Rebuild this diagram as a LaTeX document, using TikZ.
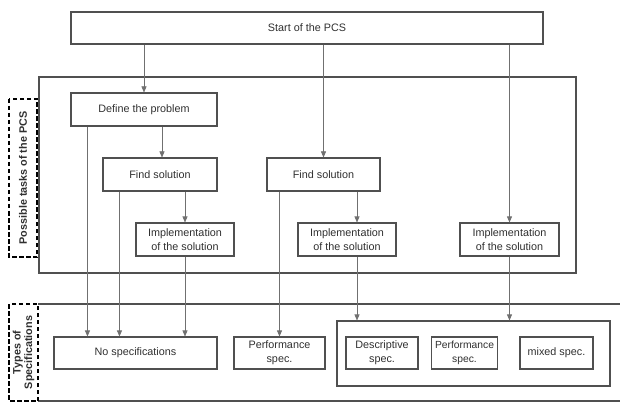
\documentclass[tikz,border=0pt]{standalone}
\usepackage{fontspec}
\setmainfont{Liberation Sans}
\usetikzlibrary{arrows.meta}
\definecolor{boxc}{HTML}{505050}
\definecolor{arrc}{HTML}{707070}
\definecolor{txtc}{HTML}{303030}
\begin{document}
\begin{tikzpicture}[x=1pt,y=-1pt,
  box/.style={draw=boxc, line width=1.1pt, fill=white, inner sep=0pt, align=center,
    text=txtc, font=\fontsize{10.8}{14}\selectfont},
  frame/.style={draw=boxc, line width=1.1pt, inner sep=0pt},
  arr/.style={draw=arrc, line width=0.6pt, -{Triangle[length=6pt,width=5pt]}},
  dbox/.style={draw=black, line width=1.4pt, dash pattern=on 4.5pt off 2.5pt, inner sep=0pt,
    align=center, rotate=90, font=\bfseries\fontsize{10.8}{11.5}\selectfont, text=txtc},
]
\useasboundingbox (0,0) rectangle (620,403);
% frames
\node[frame, minimum width=537pt, minimum height=196pt] (outer) at (307.5,175) {};
\node[dbox, minimum width=158pt, minimum height=28pt] (dash1) at (23,178) {Possible tasks of the PCS};
\coordinate (lowTL) at (38,304);
\coordinate (lowTR) at (620,304);
\coordinate (lowBL) at (38,401);
\coordinate (lowBR) at (620,401);
\draw[boxc, line width=1.1pt] (lowTL) -- (lowTR);
\draw[boxc, line width=1.1pt] (lowBL) -- (lowBR);
\node[dbox, minimum width=97pt, minimum height=29pt] (dash2) at (23.5,352.5) {Types of\\Specifications};
% boxes
\node[box, minimum width=472pt, minimum height=32pt] (start) at (307,28) {Start of the PCS};
\node[box, minimum width=146pt, minimum height=33pt] (define) at (144,109.5) {Define the problem};
\node[box, minimum width=114pt, minimum height=33pt] (findL) at (160,174.5) {Find solution};
\node[box, minimum width=98pt, minimum height=33pt] (implL) at (185,239.5) {Implementation\\of the solution};
\node[box, minimum width=113pt, minimum height=33pt] (findM) at (323.5,174.5) {Find solution};
\node[box, minimum width=98pt, minimum height=33pt] (implM) at (347,239.5) {Implementation\\of the solution};
\node[box, minimum width=99pt, minimum height=33pt] (implR) at (509.5,239.5) {Implementation\\of the solution};
\node[box, minimum width=163pt, minimum height=32pt] (nospec) at (135.5,353) {No specifications};
\node[box, minimum width=91pt, minimum height=32pt] (perf1) at (279.5,353) {Performance\\spec.};
\node[box, minimum width=273pt, minimum height=65pt] (group) at (473.5,353.5) {};
\node[box, minimum width=72pt, minimum height=32pt] (desc) at (382,353) {Descriptive\\spec.};
\node[box, minimum width=66pt, minimum height=32pt, font=\fontsize{10.3}{14}\selectfont] (perf2) at (464.5,353) {Performance\\spec.};
\node[box, minimum width=73pt, minimum height=32pt] (mixed) at (556.5,353) {mixed spec.};
% connectors
\draw[arr] (start.south -| define.north) -- (define.north);
\draw[arr] (start.south -| findM.north) -- (findM.north);
\draw[arr] (start.south -| implR.north) -- (implR.north);
\draw[arr] ([xshift=17pt]define.south west) -- ([xshift=17pt]define.south west |- nospec.north);
\draw[arr] ([xshift=18pt]define.south) -- ([xshift=2pt]findL.north);
\draw[arr] ([xshift=17pt]findL.south west) -- ([xshift=17pt]findL.south west |- nospec.north);
\draw[arr] (findL.south -| implL.north) -- (implL.north);
\draw[arr] (implL.south) -- (implL.south |- nospec.north);
\draw[arr] (findM.south -| perf1.north) -- (perf1.north);
\draw[arr] ([xshift=10pt]implM.north |- findM.south) -- ([xshift=10pt]implM.north);
\draw[arr] ([xshift=10pt]implM.south) -- ([xshift=10pt]implM.south |- group.north);
\draw[arr] (implR.south) -- (implR.south |- group.north);
\end{tikzpicture}
\end{document}
